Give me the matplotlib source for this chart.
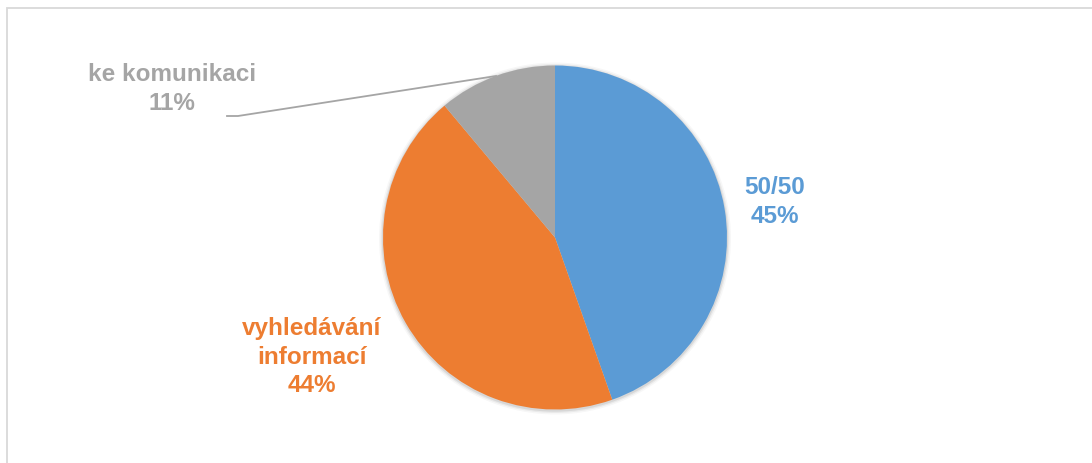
import matplotlib.pyplot as plt
from matplotlib.patches import Rectangle, Circle

# shares of answers (percent)
labels = ["50/50", "vyhledávání\ninformací", "ke komunikaci"]
shares = [44.6, 44.3, 11.1]
colors = ["#5B9BD5", "#ED7D31", "#A5A5A5"]

W, H = 1092, 463
fig = plt.figure(figsize=(W / 100, H / 100), dpi=100)
ax = fig.add_axes([0, 0, 1, 1])
ax.set_xlim(0, W)
ax.set_ylim(0, H)
ax.set_aspect("equal")
ax.axis("off")

# chart frame (cut off at right and bottom)
ax.add_patch(Rectangle((6.5, -20), W + 40, H - 8 + 20, fill=False,
                       edgecolor="#D9D9D9", linewidth=1.3))

cx, cy, r = 555, H - 237.5, 172

# soft shadow round the pie
for dr, a in [(4, 0.03), (2.5, 0.05), (1.2, 0.08)]:
    ax.add_patch(Circle((cx, cy - 1), r + dr, color="black", alpha=a, lw=0))

wedges, _ = ax.pie(shares, colors=colors, startangle=90, counterclock=False,
                   center=(cx, cy), radius=r, frame=True,
                   wedgeprops=dict(linewidth=0))
ax.set_xlim(0, W)
ax.set_ylim(0, H)
ax.axis("off")

pcts = [f"{round(s):.0f}%" for s in shares]
font = dict(family="Liberation Sans", fontsize=17.5, fontweight="bold",
            ha="center", va="center", linespacing=1.3)

ax.text(775, H - 202, f"{labels[0]}\n{pcts[0]}", color=colors[0], **font)
ax.text(312, H - 357, f"{labels[1]}\n{pcts[1]}", color=colors[1], **font)
ax.text(172, H - 89, f"{labels[2]}\n{pcts[2]}", color=colors[2], **font)

# leader line for the small slice
ax.plot([227, 238, 496], [H - 116, H - 116, H - 76], color="#A5A5A5", lw=1.3)

plt.savefig("out.png", dpi=100)
